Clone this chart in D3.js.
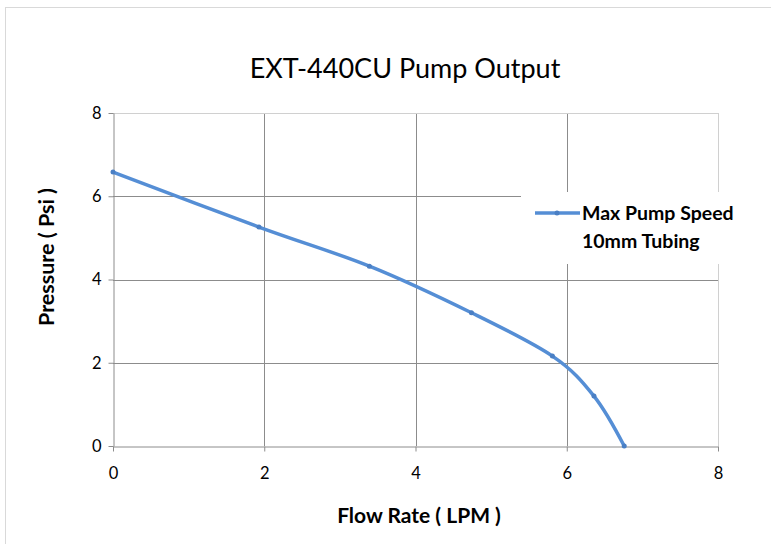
<!DOCTYPE html>
<html><head><meta charset="utf-8">
<script src="https://cdn.jsdelivr.net/npm/d3@7"></script>
<style>body{margin:0;background:#fff}svg{display:block}</style>
</head><body>
<script>
const flow = [0, 1.93, 3.39, 4.74, 5.81, 6.36, 6.76];
const pressure = [6.58, 5.26, 4.32, 3.20, 2.16, 1.20, 0];
const xTicks = [0, 2, 4, 6, 8];
const yTicks = [0, 2, 4, 6, 8];
const seriesName = ["Max Pump Speed", "10mm Tubing"];

const W = 771, H = 544;
const svg = d3.select("body").append("svg").attr("width", W).attr("height", H);
svg.append("rect").attr("x", 5.5).attr("y", 7.5).attr("width", 900).attr("height", 900)
  .attr("fill", "#fff").attr("stroke", "#d9d9d9");

const x = d3.scaleLinear().domain([0, 8]).range([113, 718]);
const y = d3.scaleLinear().domain([0, 8]).range([446, 113]);
const font = "Lato, Carlito, Calibri, sans-serif";

// gridlines
const g = svg.append("g");
g.selectAll(".vg").data(xTicks.slice(1)).join("line")
  .attr("x1", d => Math.round(x(d)) + 0.5).attr("x2", d => Math.round(x(d)) + 0.5)
  .attr("y1", y(8)).attr("y2", y(0))
  .attr("stroke", d => d === 8 ? "#d0d0d0" : "#8c8c8c").attr("stroke-width", 1);
g.selectAll(".hg").data(yTicks.slice(1)).join("line")
  .attr("y1", d => Math.round(y(d)) + 0.5).attr("y2", d => Math.round(y(d)) + 0.5)
  .attr("x1", x(0)).attr("x2", x(8))
  .attr("stroke", d => d === 8 ? "#d0d0d0" : "#8c8c8c").attr("stroke-width", 1);

// axes
const xa = svg.append("g").attr("transform", `translate(0,${Math.round(y(0)) + 0.5})`)
  .call(d3.axisBottom(x).tickValues(xTicks).tickSize(5).tickPadding(16).tickSizeOuter(0));
const ya = svg.append("g").attr("transform", `translate(${Math.round(x(0)) + 0.5},0)`)
  .call(d3.axisLeft(y).tickValues(yTicks).tickSize(5).tickPadding(7).tickSizeOuter(0));
[xa, ya].forEach(a => {
  a.select(".domain").attr("stroke", "#8c8c8c");
  a.selectAll(".tick line").attr("stroke", "#8c8c8c");
  a.selectAll(".tick text").attr("fill", "#000").style("font-family", font).style("font-size", "16.5px");
});

// legend background
svg.append("rect").attr("x", 521).attr("y", 192).attr("width", 224).attr("height", 72).attr("fill", "#fff");

// line
const line = d3.line().x((d, i) => x(flow[i])).y(d => y(d)).curve(d3.curveCatmullRom.alpha(0));
svg.append("path").datum(pressure).attr("d", line).attr("fill", "none")
  .attr("stroke", "#558ed5").attr("stroke-width", 3.5).attr("stroke-linecap", "round");
svg.selectAll(".mk").data(pressure).join("circle")
  .attr("cx", (d, i) => x(flow[i])).attr("cy", d => y(d)).attr("r", 2.5).attr("fill", "#4a7fc4");

// legend
svg.append("line").attr("x1", 535).attr("x2", 580).attr("y1", 213).attr("y2", 213)
  .attr("stroke", "#558ed5").attr("stroke-width", 3.5);
svg.append("circle").attr("cx", 557).attr("cy", 213).attr("r", 2.5).attr("fill", "#4a7fc4");
svg.selectAll(".lg").data(seriesName).join("text")
  .attr("x", 582).attr("y", (d, i) => 220 + i * 28)
  .style("font-family", font).style("font-size", "19.5px").style("font-weight", "bold")
  .attr("fill", "#000").text(d => d);

// title
svg.append("text").attr("x", 405).attr("y", 78).attr("text-anchor", "middle")
  .style("font-family", font).style("font-size", "27px").attr("fill", "#000")
  .text("EXT-440CU Pump Output");
svg.append("text").attr("x", 419).attr("y", 523).attr("text-anchor", "middle")
  .style("font-family", font).style("font-size", "21px").style("font-weight", "bold")
  .attr("fill", "#000").text("Flow Rate ( LPM )");
svg.append("text").attr("transform", "translate(54,257) rotate(-90)").attr("text-anchor", "middle")
  .style("font-family", font).style("font-size", "21.5px").style("font-weight", "bold")
  .attr("fill", "#000").text("Pressure ( Psi )");
</script>
</body></html>
